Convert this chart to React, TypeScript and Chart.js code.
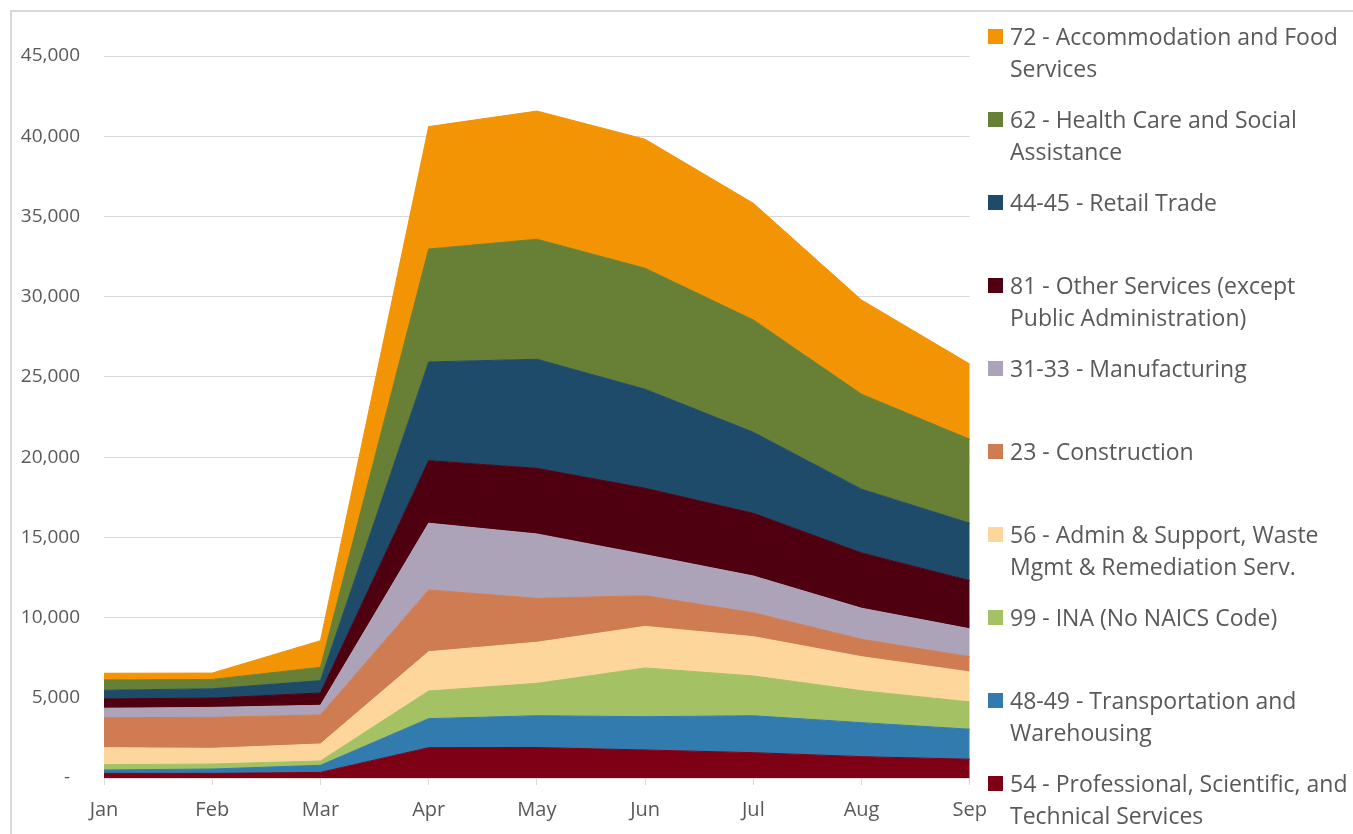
import React, { useEffect, useRef } from "react";
import { Chart, registerables } from "chart.js";

Chart.register(...registerables);

const months = ["Jan", "Feb", "Mar", "Apr", "May", "Jun", "Jul", "Aug", "Sep"];
const yTicks = [0, 5000, 10000, 15000, 20000, 25000, 30000, 35000, 40000, 45000];

// bottom -> top of the stack
const prof = [290, 290, 350, 1890, 1900, 1745, 1580, 1330, 1170];
const transport = [210, 270, 440, 1810, 1980, 2075, 2300, 2120, 1870];
const ina = [330, 310, 270, 1720, 2020, 3040, 2480, 1990, 1700];
const admin = [1060, 980, 1060, 2450, 2560, 2590, 2450, 2120, 1870];
const construction = [1870, 1930, 1810, 3850, 2740, 1910, 1490, 1085, 950];
const manufacturing = [590, 620, 600, 4160, 4010, 2560, 2290, 1935, 1740];
const otherServices = [580, 580, 770, 3900, 4090, 4140, 3910, 3450, 3000];
const retail = [540, 580, 770, 6150, 6800, 6170, 5050, 3970, 3580];
const health = [640, 585, 830, 7040, 7480, 7540, 7000, 5920, 5230];
const accommodation = [420, 395, 1660, 7630, 7990, 8040, 7270, 5870, 4690];

const seriesData = [prof, transport, ina, admin, construction, manufacturing, otherServices, retail, health, accommodation];
const seriesColors = ["#7E0015", "#327BAE", "#A4C164", "#FDD69B", "#D07C52", "#ADA3B9", "#4F0010", "#1F4B6B", "#678035", "#F39404"];
const seriesLines = [
  ["54 - Professional, Scientific, and", "Technical Services"],
  ["48-49 - Transportation and", "Warehousing"],
  ["99 - INA (No NAICS Code)"],
  ["56 - Admin & Support, Waste", "Mgmt & Remediation Serv."],
  ["23 - Construction"],
  ["31-33 - Manufacturing"],
  ["81 - Other Services (except", "Public Administration)"],
  ["44-45 - Retail Trade"],
  ["62 - Health Care and Social", "Assistance"],
  ["72 - Accommodation and Food", "Services"],
];

const TEXT = "#595959";
const GRID = "#d9d9d9";
const FONT = "'Open Sans', sans-serif";

export default function App() {
  const ref = useRef<HTMLCanvasElement | null>(null);

  useEffect(() => {
    if (!ref.current) return;
    const chart = new Chart(ref.current, {
      type: "line",
      data: {
        labels: months,
        datasets: seriesData.map((d, i) => ({
          label: seriesLines[i].join(" "),
          data: d,
          backgroundColor: seriesColors[i],
          borderColor: seriesColors[i],
          borderWidth: 1,
          pointRadius: 0,
          pointHoverRadius: 0,
          tension: 0,
          fill: i === 0 ? "origin" : "-1",
        })),
      },
      options: {
        responsive: false,
        animation: false,
        layout: { padding: { left: 0, right: 29, top: 56, bottom: 0 } },
        plugins: { legend: { display: false }, tooltip: { enabled: false } },
        scales: {
          x: {
            offset: false,
            afterFit: (s: any) => { s.height = 56; },
            grid: { display: true, drawOnChartArea: false, drawTicks: true, tickLength: 7, color: GRID },
            border: { display: true, color: GRID, width: 1 },
            ticks: { color: TEXT, font: { family: FONT, size: 20 }, padding: 13, maxRotation: 0 },
          },
          y: {
            stacked: true,
            min: 0,
            max: 45000,
            afterFit: (s: any) => { s.width = 104; },
            afterBuildTicks: (s: any) => { s.ticks = yTicks.map((v) => ({ value: v })); },
            grid: { color: GRID, drawTicks: false, lineWidth: 1 },
            border: { display: false },
            ticks: {
              color: TEXT,
              font: { family: FONT, size: 19 },
              padding: 24,
              callback: (v: any) => (Number(v) === 0 ? "-  " : Number(v).toLocaleString("en-US")),
            },
          },
        },
      },
    });
    return () => chart.destroy();
  }, []);

  const legendOrder = seriesLines.map((_, i) => seriesLines.length - 1 - i);

  return (
    <div style={{ position: "fixed", left: 0, top: 0, width: 1353, height: 834, overflow: "hidden", background: "#fff" }}>
      <div style={{ position: "absolute", left: 10, top: 10, width: 1400, height: 900, borderLeft: `2px solid ${GRID}`, borderTop: `2px solid ${GRID}` }} />
      <canvas ref={ref} width={1000} height={834} style={{ position: "absolute", left: 0, top: 0 }} />
      {legendOrder.map((si, k) => (
        <div key={si} style={{ position: "absolute", left: 988, top: 20 + 83 * k, fontFamily: FONT, fontSize: 23, lineHeight: "32px", color: TEXT, whiteSpace: "nowrap" }}>
          <div style={{ position: "absolute", left: 0, top: 9, width: 15, height: 15, background: seriesColors[si] }} />
          <div style={{ marginLeft: 22 }}>
            {seriesLines[si].map((t, j) => (
              <div key={j}>{t}</div>
            ))}
          </div>
        </div>
      ))}
    </div>
  );
}
